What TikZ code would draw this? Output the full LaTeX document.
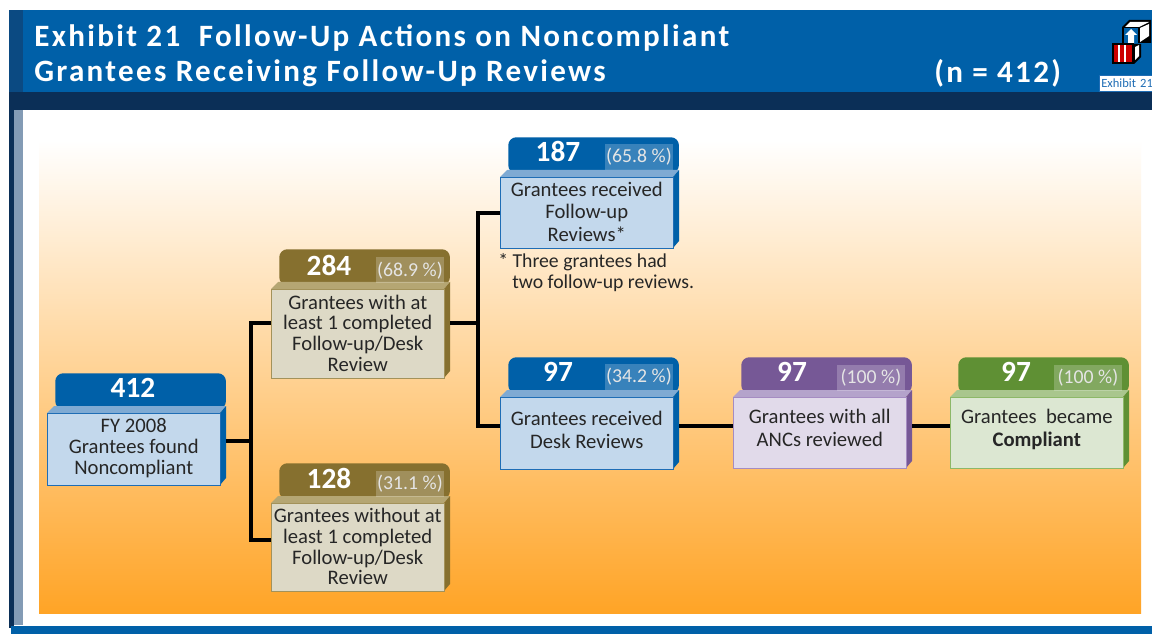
\documentclass[tikz,border=0pt]{standalone}
\usepackage{fontspec}
\setmainfont{Carlito}
\newfontfamily\titlefont[LetterSpace=7.5]{Carlito}
\usepackage{tikz}
\usetikzlibrary{calc}
\definecolor{barBlue}{HTML}{0060A8}
\definecolor{barEdge}{HTML}{0B4A82}
\definecolor{barDark}{HTML}{0B2F57}
\definecolor{stripGrey}{HTML}{839BB5}
\definecolor{panelOrange}{HTML}{FFA426}
\definecolor{blueHead}{HTML}{0060A8}
\definecolor{blueLip}{HTML}{7FAAD3}
\definecolor{blueFill}{HTML}{C3D8EC}
\definecolor{blueLine}{HTML}{1F6DB5}
\definecolor{brownHead}{HTML}{86702F}
\definecolor{brownLip}{HTML}{B5A673}
\definecolor{brownFill}{HTML}{DDD9C6}
\definecolor{brownLine}{HTML}{A3925A}
\definecolor{purpleHead}{HTML}{765896}
\definecolor{purpleLip}{HTML}{B4A3CB}
\definecolor{purpleFill}{HTML}{E1DAEA}
\definecolor{purpleLine}{HTML}{A58CC2}
\definecolor{greenHead}{HTML}{5F9034}
\definecolor{greenLip}{HTML}{A9C68D}
\definecolor{greenFill}{HTML}{DCE7D2}
\definecolor{greenLine}{HTML}{8DB868}
\tikzset{
  bodytext/.style={align=center,font=\fontsize{15.5}{15.6}\selectfont,text=black!85,inner sep=0pt,
    minimum width=129.75pt,anchor=north west},
  headbox/.style={anchor=north west,inner sep=0pt,minimum width=128pt,minimum height=27pt,rounded corners=6pt},
  numlabel/.style={font=\fontsize{22}{24}\selectfont\bfseries,text=white,inner sep=0pt},
  pctbox/.style={fill=white,fill opacity=0.22,text opacity=1,text=white!90!black,inner sep=0pt,
    minimum width=51pt,minimum height=19.5pt,font=\fontsize{14.8}{16}\selectfont},
  titleline/.style={font=\titlefont\fontsize{23.3}{26}\selectfont\bfseries,text=white,inner sep=0pt,anchor=west},
  link/.style={line width=3.2pt,black},
}
\newcommand{\exbox}[7][]{
  \node[headbox,fill=#2Head] (#3-head) at (#4+8,#5-40) {};
  \fill[#2Lip] (#4,#5) -- (#4+7,#5-7) -- (#4+179,#5-7) -- (#4+173,#5) -- cycle;
  \fill[#2Head] (#4+173,#5) -- (#4+179,#5-7) -- (#4+179,#5+#6-7) -- (#4+173,#5+#6) -- cycle;
  \node[bodytext,draw=#2Line,fill=#2Fill,minimum height={#6*0.75pt},#1] (#3) at (#4,#5) {#7};
  \coordinate (#3-side) at (#4+179,#5);
}
\begin{document}
\begin{tikzpicture}[x=0.75pt,y=-0.75pt]
\clip (0,0) rectangle (1152,634);
\fill[white] (0,0) rectangle (1152,634);
\fill[barBlue] (9,10) rectangle (1152,92);
\fill[barEdge] (9,10) rectangle (23,92);
\fill[barDark] (9,92) rectangle (1152,110);
\fill[barDark] (9,110) rectangle (14,628);
\fill[stripGrey] (14,110) rectangle (23,625);
\fill[barBlue] (11,626) rectangle (1152,634);
\shade[top color=white,bottom color=panelOrange] (39,140) rectangle (1141,613);

\node[titleline] (title1) at (34,38) {Exhibit 21\ \ Follow-Up Actions on Noncompliant};
\node[titleline] (title2) at (34,73) {Grantees Receiving Follow-Up Reviews};
\node[titleline] (count) at (934,73) {(n = 412)};

\fill[black] (1122,27) -- (1129,20) -- (1151,20) -- (1151,43) -- (1122,43) -- cycle;
\fill[white] (1125,27) -- (1130,22) -- (1149,22) -- (1139,27) -- cycle;
\fill[white] (1140,28) -- (1149,24) -- (1149,36) -- (1140,42) -- cycle;
\fill[barBlue] (1124,28) rectangle (1138,43);
\fill[white] (1131,29) -- (1137,35) -- (1134,35) -- (1134,43) -- (1128,43) -- (1128,35) -- (1125,35) -- cycle;
\fill[black] (1112,43) rectangle (1134,64);
\fill[black] (1134,44) -- (1141,44) -- (1141,57) -- (1134,64) -- cycle;
\fill[white] (1135,47) -- (1139,45) -- (1139,56) -- (1135,60) -- cycle;
\fill[red!80!black] (1114,45) rectangle (1132,62);
\fill[white] (1118,45) rectangle (1120,62);
\fill[white] (1124,45) rectangle (1126,62);
\node[draw=blueLine,fill=white,text=blueLine,anchor=north west,inner sep=0pt,minimum width=53pt,
  minimum height=12pt,font=\fontsize{9.4}{12}\selectfont,text width=53pt,align=left] (logolabel) at (1099,75) {\,Exhibit 21};

\exbox[text depth=4pt]{blue}{fy}{47}{413}{72}{FY 2008\\Grantees found\\Noncompliant}
\node[numlabel] (fynum) at (133,388) {412};

\exbox[text depth=1pt]{brown}{with}{271}{289}{89}{Grantees with at\\least 1 completed\\Follow-up/Desk\\Review}
\node[numlabel] (withnum) at (329,265) {284};
\node[pctbox] (withpct) at (410,270.5) {(68.9 \%)};

\exbox[text depth=1pt]{brown}{without}{271}{503}{88}{Grantees without at\\least 1 completed\\Follow-up/Desk\\Review}
\node[numlabel] (withoutnum) at (329,478) {128};
\node[pctbox] (withoutpct) at (410,483.5) {(31.1 \%)};

\exbox[text depth=1.5pt]{blue}{follow}{500}{177}{71}{Grantees received\\[1.2pt]Follow-up\\[1.2pt]Reviews*}
\node[numlabel] (follownum) at (558,151) {187};
\node[pctbox] (followpct) at (639,157) {(65.8 \%)};
\node[font=\fontsize{14.8}{15.7}\selectfont,text=black!85,align=left,inner sep=0pt,anchor=north west] (note) at (498,253)
  {* Three grantees had\\\hspace*{10.5pt}two follow-up reviews.};

\exbox[text depth=5pt]{blue}{desk}{500}{397}{72}{Grantees received\\[1.5pt]Desk Reviews}
\node[numlabel] (desknum) at (558,372) {97};
\node[pctbox] (deskpct) at (639,377) {(34.2 \%)};

\exbox[text depth=8pt]{purple}{anc}{733}{397}{71}{Grantees with all\\[1.5pt]ANCs reviewed}
\node[numlabel] (ancnum) at (792,372) {97};
\node[pctbox] (ancpct) at (871,378) {(100 \%)};

\exbox[text depth=8pt]{green}{done}{950}{397}{71}{Grantees\ \ became\\[1.5pt]\textbf{Compliant}}
\node[numlabel] (donenum) at (1016,372) {97};
\node[pctbox] (donepct) at (1088,378) {(100 \%)};

\coordinate (trunkA) at (251,441);
\coordinate (trunkB) at (478,323);
\coordinate (rowC) at (0,426);

\draw[link] (fy-side |- trunkA) -- (trunkA);
\draw[link] (with.west |- trunkB) -| (trunkA);
\draw[link] (without.west |- 0,540) -| (trunkA);
\draw[link] (with-side |- trunkB) -- (trunkB);
\draw[link] (follow.west |- 0,213) -| (trunkB);
\draw[link] (desk.west |- rowC) -| (trunkB);
\draw[link] (desk-side |- rowC) -- (anc.west |- rowC);
\draw[link] (anc-side |- rowC) -- (done.west |- rowC);
\end{tikzpicture}
\end{document}
